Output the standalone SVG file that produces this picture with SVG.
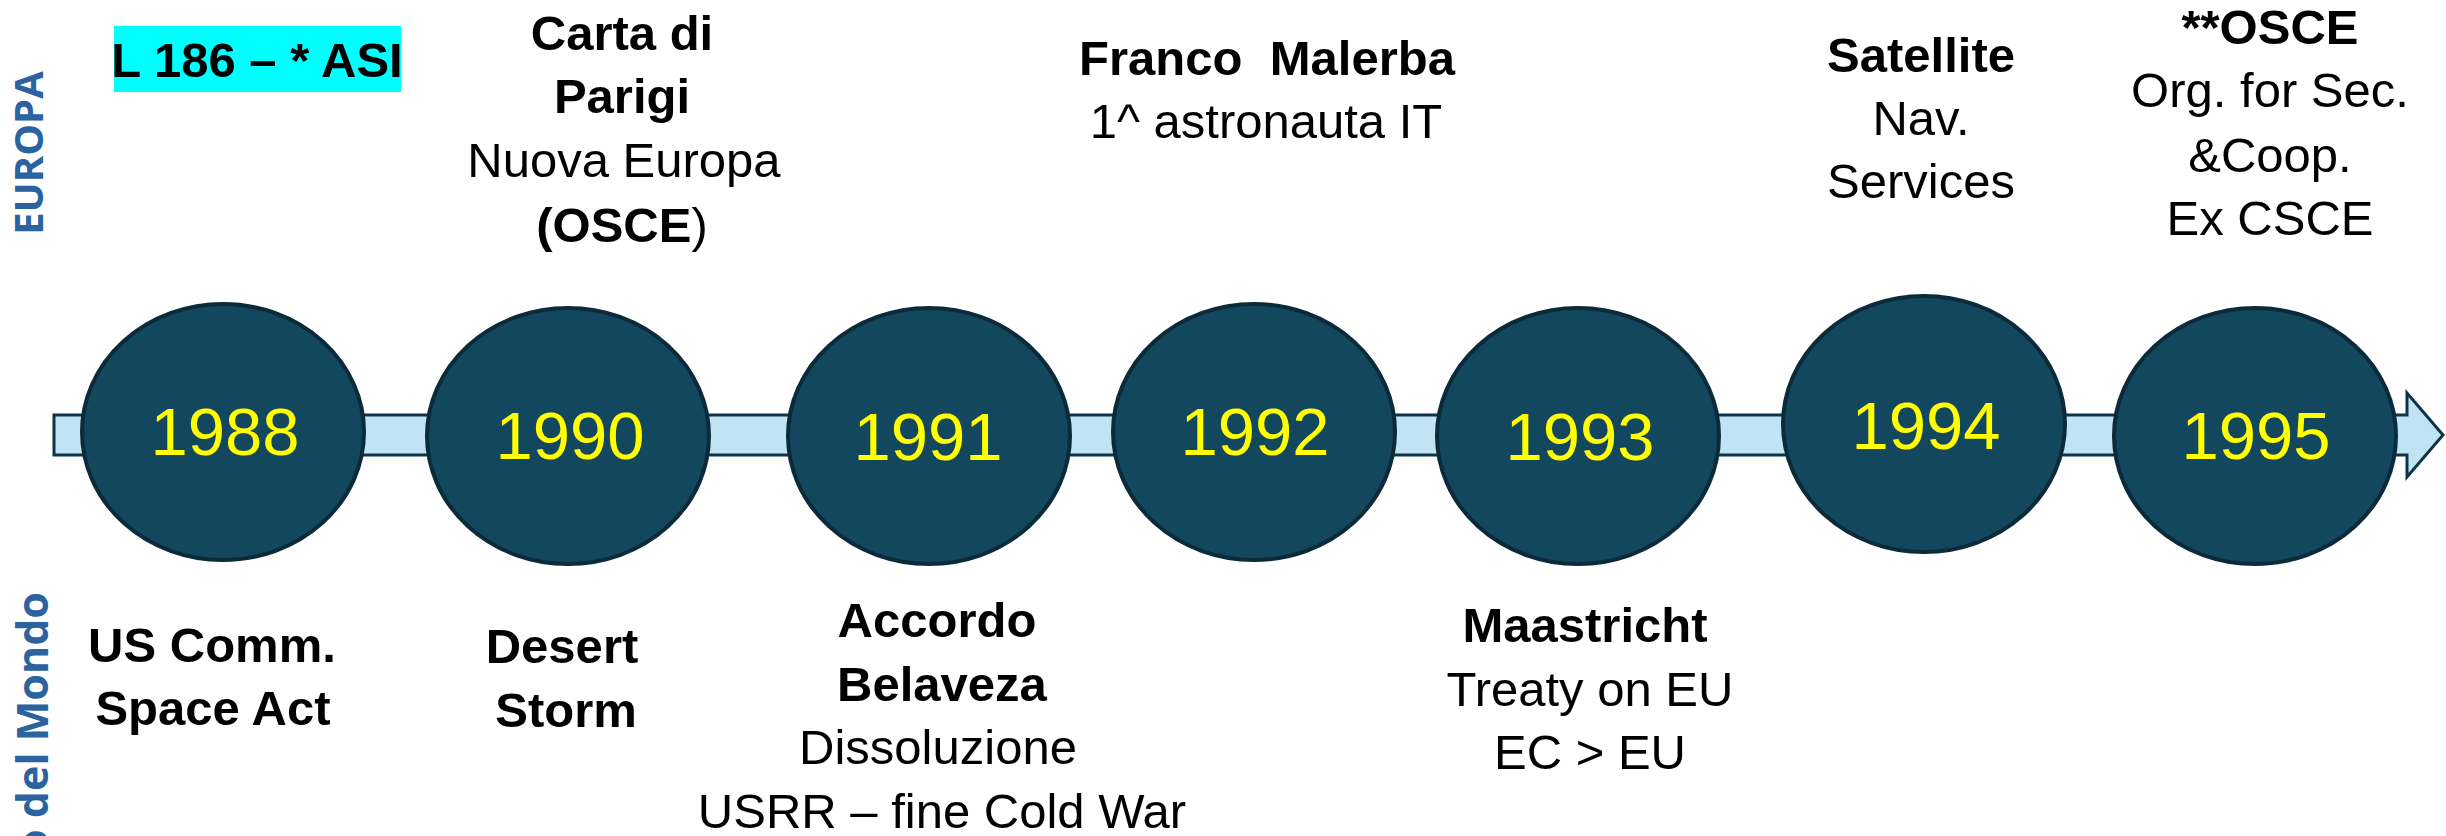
<svg xmlns="http://www.w3.org/2000/svg" width="2446" height="836" viewBox="0 0 2446 836">
<style>
.lbl{font-family:"Liberation Sans",Arial,sans-serif;font-size:49px;fill:#000;text-anchor:middle;white-space:pre}
.b{font-weight:bold}
.yr{font-family:"Liberation Sans",Arial,sans-serif;font-size:67px;fill:#FFFF00;text-anchor:middle}
.node{fill:#13475E;stroke:#0B2A3A;stroke-width:4}
.side{font-family:"Open Sans","Liberation Sans",sans-serif;font-weight:bold;fill:#2A63A0}
</style>
<rect width="2446" height="836" fill="#fff"/>
<g id="connectors">
<polygon points="54,415 2407,415 2407,393 2443,435 2407,477 2407,455 54,455" fill="#C0E4F4" stroke="#0F3447" stroke-width="3" stroke-linejoin="miter"/>
</g>
<g id="side-labels">
<text class="side" font-size="40" text-anchor="middle" transform="translate(43,153) rotate(-90)">EUROPA</text>
<text class="side" font-size="43" text-anchor="end" transform="translate(48,592) rotate(-90)">o del Mondo</text>
</g>
<g id="n1988"><ellipse class="node" cx="223" cy="432" rx="141" ry="128"/><text class="yr" x="225" y="455">1988</text></g>
<g id="n1990"><ellipse class="node" cx="568" cy="436" rx="141" ry="128"/><text class="yr" x="570" y="459">1990</text></g>
<g id="n1991"><ellipse class="node" cx="929" cy="436" rx="141" ry="128"/><text class="yr" x="928" y="460">1991</text></g>
<g id="n1992"><ellipse class="node" cx="1254" cy="432" rx="141" ry="128"/><text class="yr" x="1255" y="455">1992</text></g>
<g id="n1993"><ellipse class="node" cx="1578" cy="436" rx="141" ry="128"/><text class="yr" x="1580" y="460">1993</text></g>
<g id="n1994"><ellipse class="node" cx="1924" cy="424" rx="141" ry="128"/><text class="yr" x="1926" y="449">1994</text></g>
<g id="n1995"><ellipse class="node" cx="2255" cy="436" rx="141" ry="128"/><text class="yr" x="2256" y="459">1995</text></g>
<g id="e1988">
<rect x="114" y="26" width="287" height="66" fill="#00FFFF"/>
<text class="lbl b" x="257" y="77">L 186 – * ASI</text>
</g>
<g id="e1990">
<text class="lbl b" x="622" y="50">Carta di</text>
<text class="lbl b" x="622" y="113">Parigi</text>
<text class="lbl" x="624" y="177">Nuova Europa</text>
<text class="lbl" x="622" y="242"><tspan font-weight="bold">(OSCE</tspan>)</text>
</g>
<g id="e1992">
<text class="lbl b" x="1267" y="75">Franco  Malerba</text>
<text class="lbl" x="1266" y="138">1^ astronauta IT</text>
</g>
<g id="e1994">
<text class="lbl b" x="1921" y="72">Satellite</text>
<text class="lbl" x="1921" y="135">Nav.</text>
<text class="lbl" x="1921" y="198">Services</text>
</g>
<g id="e1995">
<text class="lbl b" x="2270" y="44">**OSCE</text>
<text class="lbl" x="2270" y="107">Org. for Sec.</text>
<text class="lbl" x="2270" y="172">&amp;Coop.</text>
<text class="lbl" x="2270" y="235">Ex CSCE</text>
</g>
<g id="w1988">
<text class="lbl b" x="212" y="662">US Comm.</text>
<text class="lbl b" x="213" y="725">Space Act</text>
</g>
<g id="w1990">
<text class="lbl b" x="562" y="663">Desert</text>
<text class="lbl b" x="566" y="727">Storm</text>
</g>
<g id="w1991">
<text class="lbl b" x="937" y="637">Accordo</text>
<text class="lbl b" x="942" y="701">Belaveza</text>
<text class="lbl" x="938" y="764">Dissoluzione</text>
<text class="lbl" x="942" y="828">USRR – fine Cold War</text>
</g>
<g id="w1993">
<text class="lbl b" x="1585" y="642">Maastricht</text>
<text class="lbl" x="1590" y="706">Treaty on EU</text>
<text class="lbl" x="1590" y="769">EC &gt; EU</text>
</g>
</svg>
